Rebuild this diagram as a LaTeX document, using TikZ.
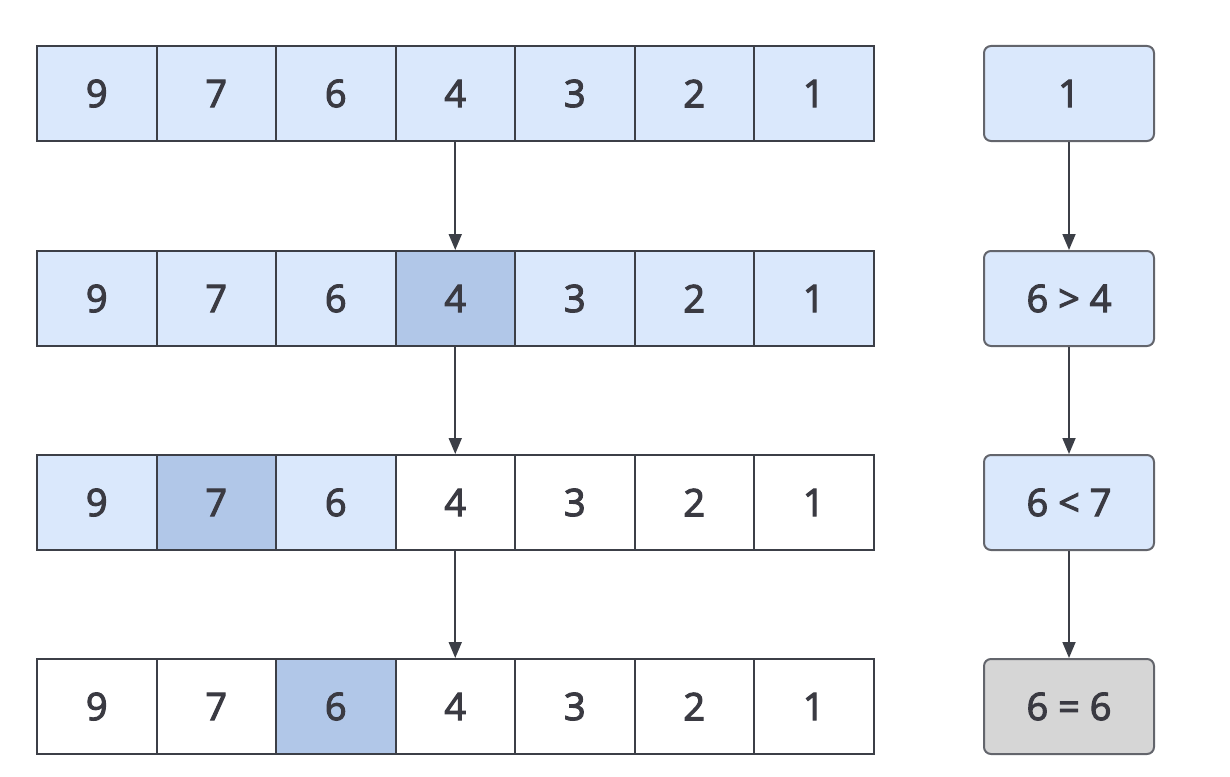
\documentclass[tikz,border=0pt]{standalone}
\usepackage{fontspec}
\setmainfont{Open Sans}
\newcommand\thk[1]{\special{pdf:literal direct 2 Tr 1.1 w}#1\special{pdf:literal direct 0 Tr}}
\usetikzlibrary{arrows.meta}
\definecolor{lb}{HTML}{DAE8FC}
\definecolor{hb}{HTML}{B1C7E8}
\definecolor{gr}{HTML}{D6D6D6}
\definecolor{ln}{HTML}{3C3F47}
\definecolor{tx}{HTML}{3A3A42}
\tikzset{
  cell/.style={draw=ln, line width=2pt, minimum width=119.5pt, minimum height=95pt, inner sep=0pt, anchor=north west, text=tx, font=\fontsize{38}{44}\selectfont},
  cmpbox/.style={draw=ln!80, line width=2pt, rounded corners=7pt, minimum width=170pt, minimum height=95pt, inner sep=0pt, anchor=north west, text=tx, font=\fontsize{38}{44}\selectfont},
  arr/.style={draw=ln, line width=1.8pt, -{Triangle[length=16pt,width=13pt]}}
}
\begin{document}
\begin{tikzpicture}[x=1pt,y=-1pt]
\useasboundingbox (0,0) rectangle (1230,776);
\def\rA{45}\def\rB{250}\def\rC{454}\def\rD{658}
% Row 1
\foreach \v [count=\i from 0] in {9,7,6,4,3,2,1} {
  \node[cell, fill=lb] (a\i) at ({36+119.5*\i},\rA) {\thk{\v}};
}
% Row 2
\foreach \v/\c [count=\i from 0] in {9/lb,7/lb,6/lb,4/hb,3/lb,2/lb,1/lb} {
  \node[cell, fill=\c] (b\i) at ({36+119.5*\i},\rB) {\thk{\v}};
}
% Row 3
\foreach \v/\c [count=\i from 0] in {9/lb,7/hb,6/lb,4/white,3/white,2/white,1/white} {
  \node[cell, fill=\c] (c\i) at ({36+119.5*\i},\rC) {\thk{\v}};
}
% Row 4
\foreach \v/\c [count=\i from 0] in {9/white,7/white,6/hb,4/white,3/white,2/white,1/white} {
  \node[cell, fill=\c] (d\i) at ({36+119.5*\i},\rD) {\thk{\v}};
}
% comparison boxes
\node[cmpbox, fill=lb] (k1) at (983,\rA) {\thk{1}};
\node[cmpbox, fill=lb] (k2) at (983,\rB) {\thk{6 > 4}};
\node[cmpbox, fill=lb] (k3) at (983,\rC) {\thk{6 < 7}};
\node[cmpbox, fill=gr] (k4) at (983,\rD) {\thk{6 = 6}};
% arrows
\draw[arr] (a3.south) -- (b3.north);
\draw[arr] (b3.south) -- (c3.north);
\draw[arr] (c3.south) -- (d3.north);
\draw[arr] (k1.south) -- (k2.north);
\draw[arr] (k2.south) -- (k3.north);
\draw[arr] (k3.south) -- (k4.north);
\end{tikzpicture}
\end{document}
